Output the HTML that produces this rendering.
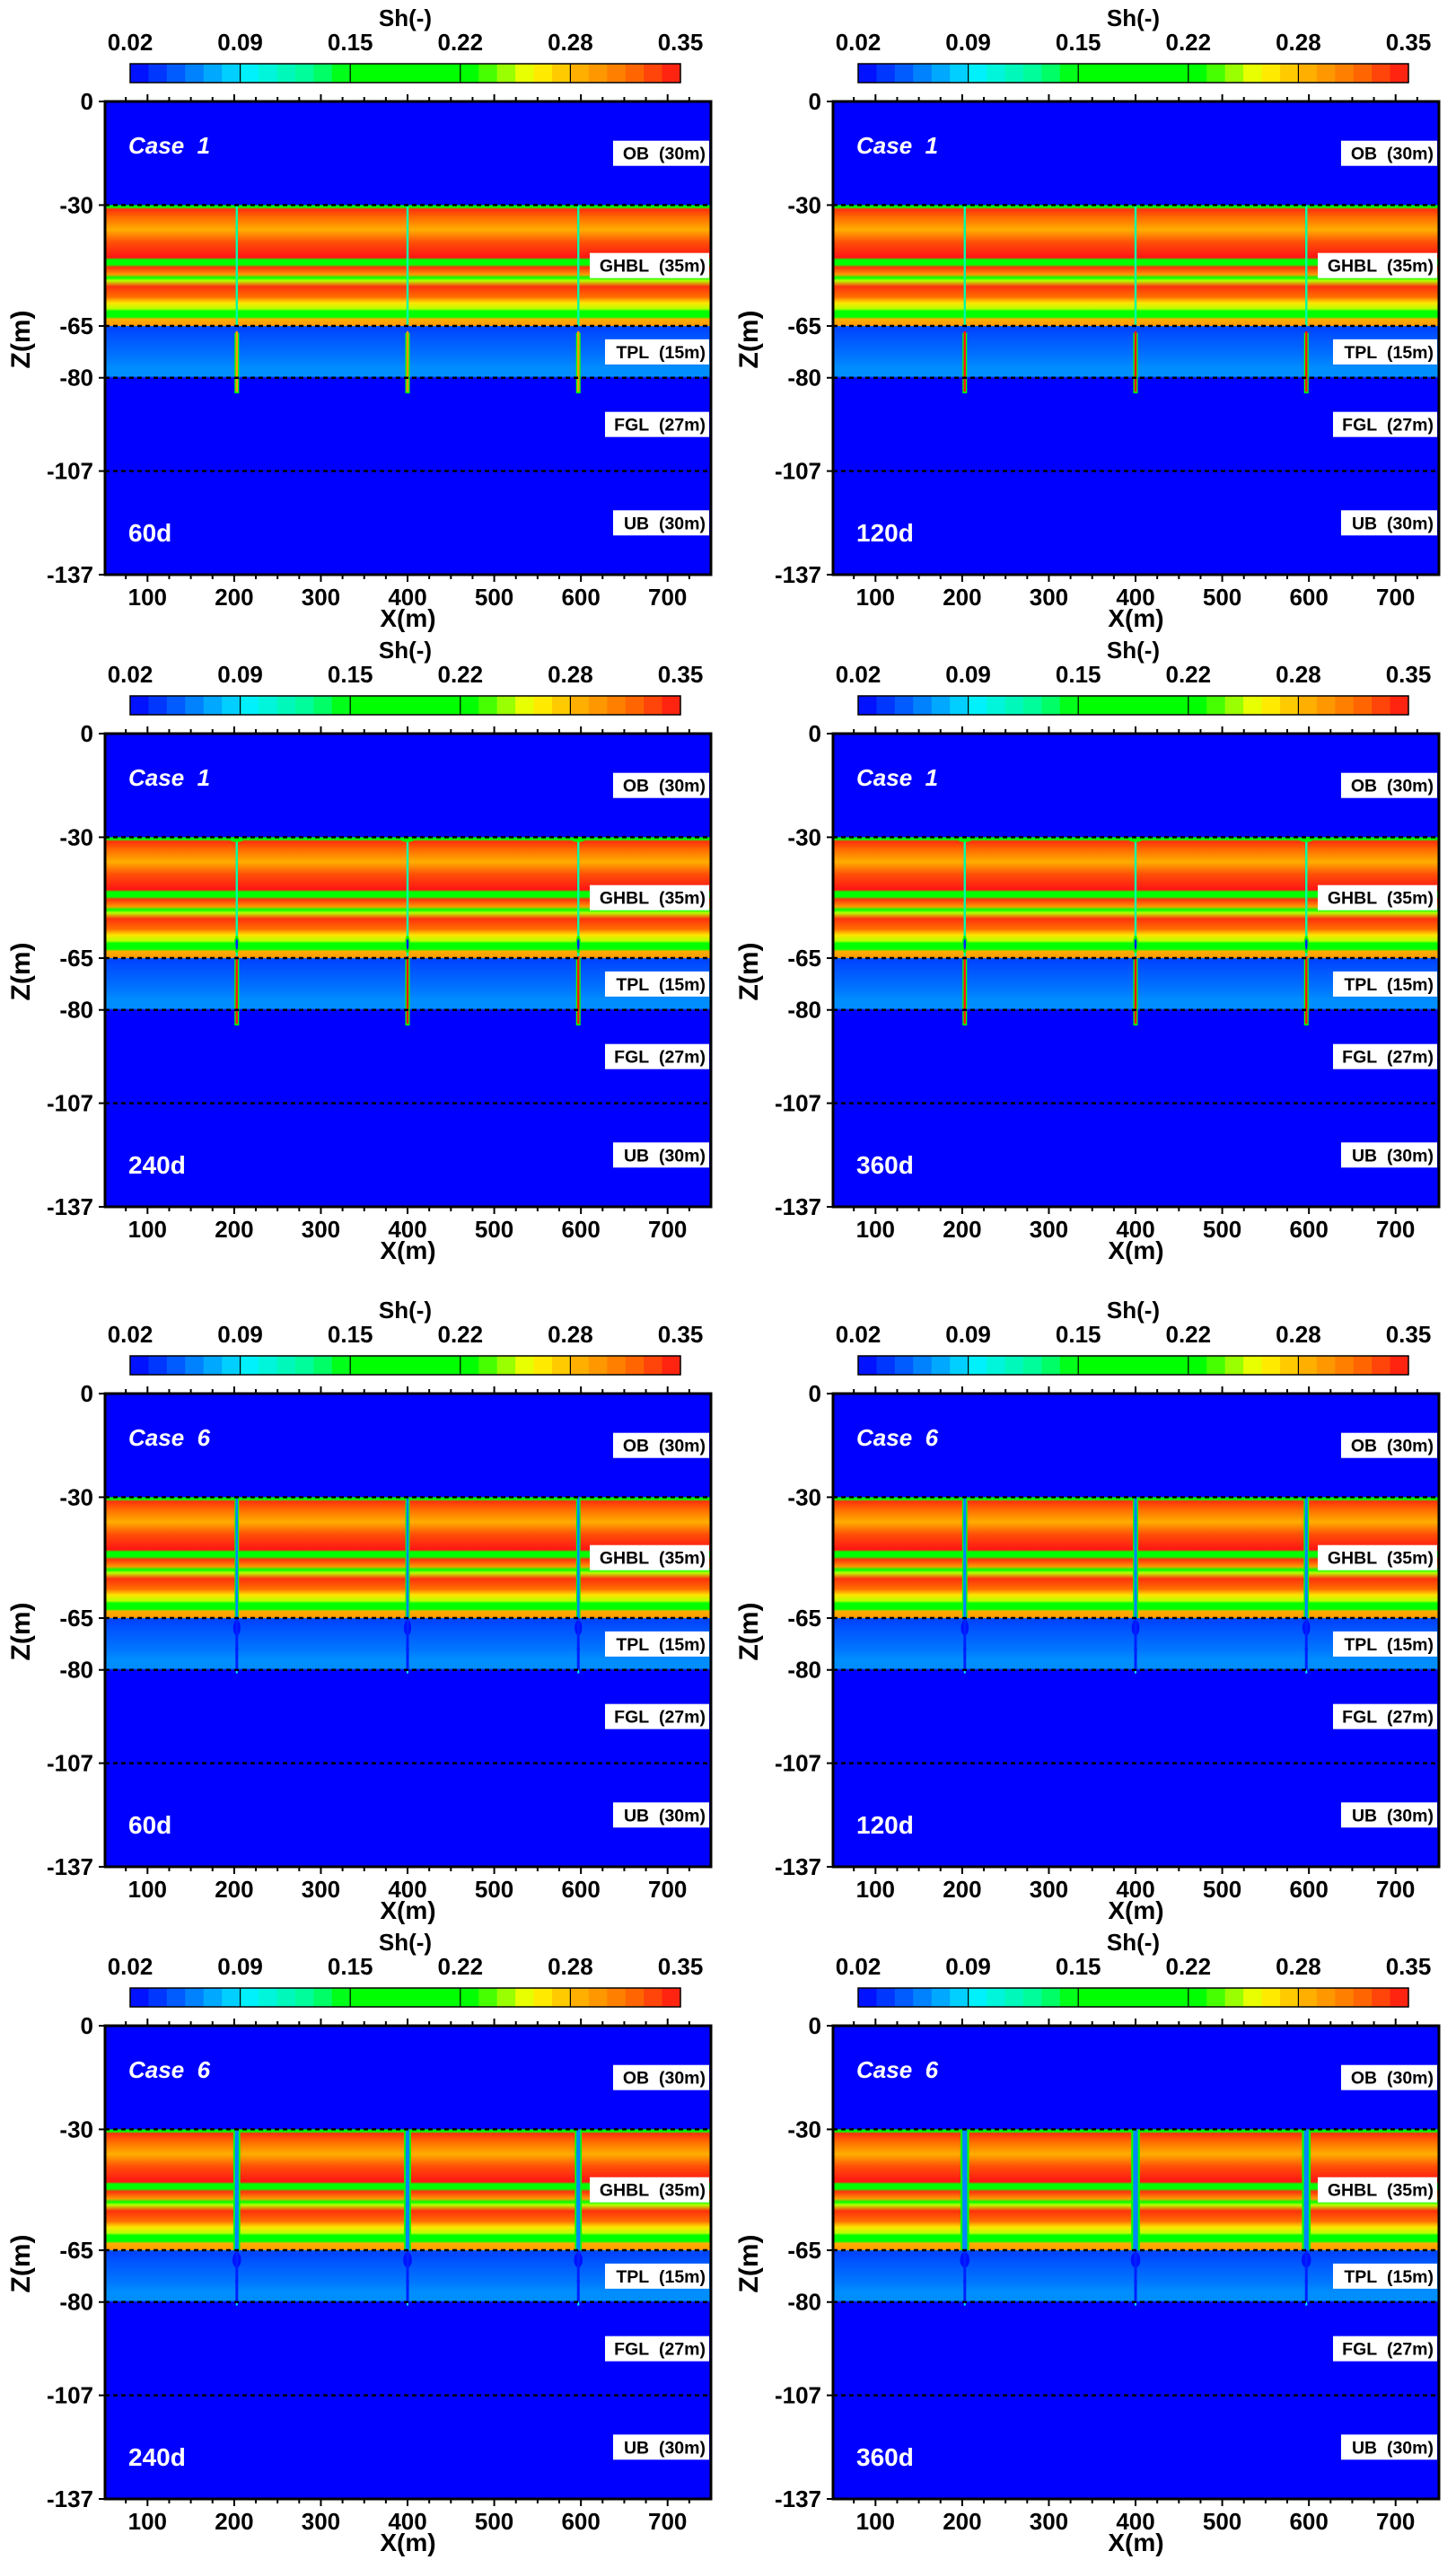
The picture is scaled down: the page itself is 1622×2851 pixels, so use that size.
<!DOCTYPE html>
<html><head><meta charset="utf-8"><style>
html,body{margin:0;padding:0;background:#fff;}
svg{display:block;font-family:"Liberation Sans",Arial,sans-serif;}
</style></head><body>
<svg id="fig" xmlns="http://www.w3.org/2000/svg" width="1622" height="2851" viewBox="0 0 1622 2851"></svg>
<script>
// ---- data ----
const xTicks=[100,200,300,400,500,600,700];
const zTicks=[0,-30,-65,-80,-107,-137];
const zTickLabels=['0','-30','-65','-80','-107','-137'];
const cbLabels=['0.02','0.09','0.15','0.22','0.28','0.35'];
const layerNames=['OB\u00a0\u00a0(30m)','GHBL\u00a0\u00a0(35m)','TPL\u00a0\u00a0(15m)','FGL\u00a0\u00a0(27m)','UB\u00a0\u00a0(30m)'];
const layerTop=[0,-30,-65,-80,-107];
const layerBot=[-30,-65,-80,-107,-137];
const boundaries=[-30,-65,-80,-107];
const ghblZ=[-30,-30.6,-31.2,-33.7,-37.2,-40.7,-45.2,-45.8,-47.2,-48.0,-50.1,-51.0,-51.9,-53.6,-56.6,-58.3,-60.0,-60.7,-62.4,-63.0,-65];
const ghblSh=[0.20,0.20,0.34,0.32,0.29,0.33,0.35,0.20,0.20,0.34,0.30,0.22,0.25,0.34,0.32,0.27,0.25,0.20,0.20,0.29,0.30];
const tplZ=[-65,-65.6,-68,-71,-74,-77,-79.5,-80];
const tplSh=[0.05,0.04,0.045,0.05,0.055,0.062,0.062,0.03];
const wellX=[203,400,597];
const panelCase=[1,1,1,1,6,6,6,6];
const panelDay=['60d','120d','240d','360d','60d','120d','240d','360d'];
const wellHalf=[0.6,0.6,0.8,1.0,2.5,3,4,5];
const rowTop=[113,817,1552,2256];
const colLeft=[117,928];
const cmapV=[0.02,0.05,0.09,0.13,0.15,0.225,0.245,0.26,0.285,0.32,0.35];
const cmapC=[[0,0,255],[0,100,255],[0,240,255],[0,255,140],[0,255,0],[0,255,0],[150,255,0],[255,255,0],[255,185,0],[255,110,0],[255,20,20]];

const PW=675, PH=527, XMIN=51, XMAX=750, ZMAX=137;
const NS='http://www.w3.org/2000/svg';
const svg=document.getElementById('fig');
function cmap(v){
  if(v<=cmapV[0]) return 'rgb('+cmapC[0]+')';
  for(let i=1;i<cmapV.length;i++){ if(v<=cmapV[i]){const t=(v-cmapV[i-1])/(cmapV[i]-cmapV[i-1]);
    const c=cmapC[i-1].map((a,k)=>Math.round(a+(cmapC[i][k]-a)*t)); return 'rgb('+c+')';}}
  return 'rgb('+cmapC[cmapC.length-1]+')';
}
function mk(tag,attrs,parent,text){const e=document.createElementNS(NS,tag);for(const k in attrs)e.setAttribute(k,attrs[k]);if(text!==undefined)e.textContent=text;(parent||svg).appendChild(e);return e;}

for(let p=0;p<8;p++){
  const row=Math.floor(p/2), col=p%2;
  const L=colLeft[col], T=rowTop[row];
  const xs=x=>L+(x-XMIN)/(XMAX-XMIN)*PW;
  const ys=z=>T+(-z)/ZMAX*PH;
  const g=mk('g',{});
  
  
  // colorbar
  const cbL=L+28, cbW=613, cbT=T-42, cbH=21;
  const cb=mk('g',{},g);
  
  
  const N=30;
  for(let i=0;i<N;i++){const v=0.02+(i+0.5)/N*0.33;
    mk('rect',{x:cbL+i*cbW/N,y:cbT,width:cbW/N+0.6,height:cbH,fill:cmap(v)},cb);}
  mk('rect',{x:cbL,y:cbT,width:cbW,height:cbH,fill:'none',stroke:'#000','stroke-width':1.5},cb);
  cbLabels.forEach((s,i)=>{const x=cbL+i*cbW/5;
    if(i>0&&i<5) mk('line',{x1:x,x2:x,y1:cbT,y2:cbT+cbH,stroke:'#000','stroke-width':1.2},cb);
    const t=mk('text',{x:x,y:T-57,'text-anchor':'middle','font-size':26,'font-weight':'bold'},cb,s);
    
    
  });
  const sh=mk('text',{x:cbL+cbW/2,y:T-84,'text-anchor':'middle','font-size':26,'font-weight':'bold'},cb,'Sh(-)');
  
  
  // clip
  const cid='clip'+p;
  const cp=mk('clipPath',{id:cid},g); mk('rect',{x:L,y:T,width:PW,height:PH},cp);
  const plot=mk('g',{'clip-path':'url(#'+cid+')'},g);
  
  
  mk('rect',{x:L,y:T,width:PW,height:PH,fill:cmap(0.02)},plot);
  const gid='grad'+p;
  const lg=mk('linearGradient',{id:gid,gradientUnits:'userSpaceOnUse',x1:0,x2:0,y1:ys(-30),y2:ys(-80)},g);
  const addStop=(z,v)=>mk('stop',{offset:((-30-z)/50).toFixed(4),'stop-color':cmap(v)},lg);
  ghblZ.forEach((z,i)=>addStop(z,ghblSh[i]));
  tplZ.forEach((z,i)=>addStop(z,tplSh[i]));
  mk('rect',{x:L,y:ys(-30),width:PW,height:ys(-80)-ys(-30),fill:'url(#'+gid+')'},plot);
  // wells
  const hw=wellHalf[p];
  const pxm=PW/(XMAX-XMIN);
  wellX.forEach(wx=>{
    const cx=xs(wx);
    const w=mk('g',{},plot);
    
    
    if(panelCase[p]===1){
      const stage=p;
      mk('rect',{x:cx-1.2,y:ys(-30),width:2.4,height:ys(-65)-ys(-30),fill:cmap(0.12)},w);
      if(stage>=2){
        mk('ellipse',{cx:cx,cy:ys(-30.6),rx:8*pxm,ry:3,fill:cmap(0.2)},w);
        mk('ellipse',{cx:cx,cy:ys(-61),rx:3*pxm,ry:ys(-63.5)-ys(-61),fill:cmap(0.2)},w);
        mk('ellipse',{cx:cx,cy:ys(-61),rx:1.4*pxm,ry:(ys(-63)-ys(-61))*0.8,fill:cmap(0.03)},w);
      }
      const zs=stage>=2?-65:-67;
      mk('rect',{x:cx-2.5,y:ys(zs),width:5,height:ys(-84.5)-ys(zs),fill:cmap(0.2)},w);
      mk('rect',{x:cx-1.2,y:ys(zs+0.5),width:2.4,height:ys(-84)-ys(zs+0.5),fill:cmap(stage===0?0.3:0.35)},w);
    } else {
      mk('rect',{x:cx-hw*pxm,y:ys(-30),width:2*hw*pxm,height:ys(-65)-ys(-30),fill:cmap(0.18)},w);
      mk('rect',{x:cx-hw*pxm*0.55,y:ys(-30),width:hw*pxm*1.1,height:ys(-65)-ys(-30),fill:cmap(0.06)},w);
      mk('ellipse',{cx:cx,cy:ys(-67.8),rx:(3+hw*0.5)*pxm,ry:ys(-70)-ys(-67.8),fill:cmap(0.025)},w);
      mk('ellipse',{cx:cx,cy:ys(-74),rx:1.8*pxm,ry:3,fill:cmap(0.025)},w);
      mk('rect',{x:cx-1.5,y:ys(-65),width:3,height:ys(-80)-ys(-65),fill:cmap(0.03)},w);
      mk('rect',{x:cx-1,y:ys(-80),width:2,height:ys(-81)-ys(-80),fill:cmap(0.09)},w);
    }
  });
  boundaries.forEach(z=>{
    const l=mk('line',{x1:L,x2:L+PW,y1:ys(z),y2:ys(z),stroke:'#000','stroke-width':2.5,'stroke-dasharray':'5,4'},plot);
    
    
  });
  layerNames.forEach((n,i)=>{
    const zc=(layerTop[i]+layerBot[i])/2, yc=ys(zc);
    const bw=[107,133,116,116,107][i];
    const lb=mk('g',{},plot);
    
    
    mk('rect',{x:L+PW-2-bw,y:yc-14,width:bw,height:28,fill:'#fff'},lb);
    mk('text',{x:L+PW-6,y:yc+7,'text-anchor':'end','font-size':19.5,'font-weight':'bold'},lb,n);
  });
  const ct=mk('text',{x:L+26,y:T+58,'font-size':26,'font-weight':'bold','font-style':'italic',fill:'#fff'},plot,'Case\u00a0\u00a0'+panelCase[p]);
  
  
  const dt=mk('text',{x:L+26,y:T+490,'font-size':28,'font-weight':'bold',fill:'#fff'},plot,panelDay[p]);
  
  
  mk('rect',{x:L,y:T,width:PW,height:PH,fill:'none',stroke:'#000','stroke-width':3},g);
  const xa=mk('g',{},g);
  
  
  for(let x=75;x<=725;x+=25){const major=x%100===0, len=major?8:5, px=xs(x);
    mk('line',{x1:px,x2:px,y1:T,y2:T-len,stroke:'#000','stroke-width':2},xa);
    mk('line',{x1:px,x2:px,y1:T+PH,y2:T+PH+len,stroke:'#000','stroke-width':2},xa);}
  xTicks.forEach(x=>mk('text',{x:xs(x),y:T+PH+34,'text-anchor':'middle','font-size':26,'font-weight':'bold'},xa,String(x)));
  mk('text',{x:L+PW/2,y:T+PH+58,'text-anchor':'middle','font-size':28,'font-weight':'bold'},xa,'X(m)');
  const za=mk('g',{},g);
  
  
  zTicks.forEach((z,i)=>{
    mk('line',{x1:L,x2:L-7,y1:ys(z),y2:ys(z),stroke:'#000','stroke-width':2},za);
    mk('text',{x:L-13,y:ys(z)+9,'text-anchor':'end','font-size':26,'font-weight':'bold'},za,zTickLabels[i]);
  });
  mk('text',{x:0,y:0,'text-anchor':'middle','font-size':30,'font-weight':'bold',transform:'translate('+(L-84)+','+(T+265)+') rotate(-90)'},za,'Z(m)');
}
</script>
</body></html>
